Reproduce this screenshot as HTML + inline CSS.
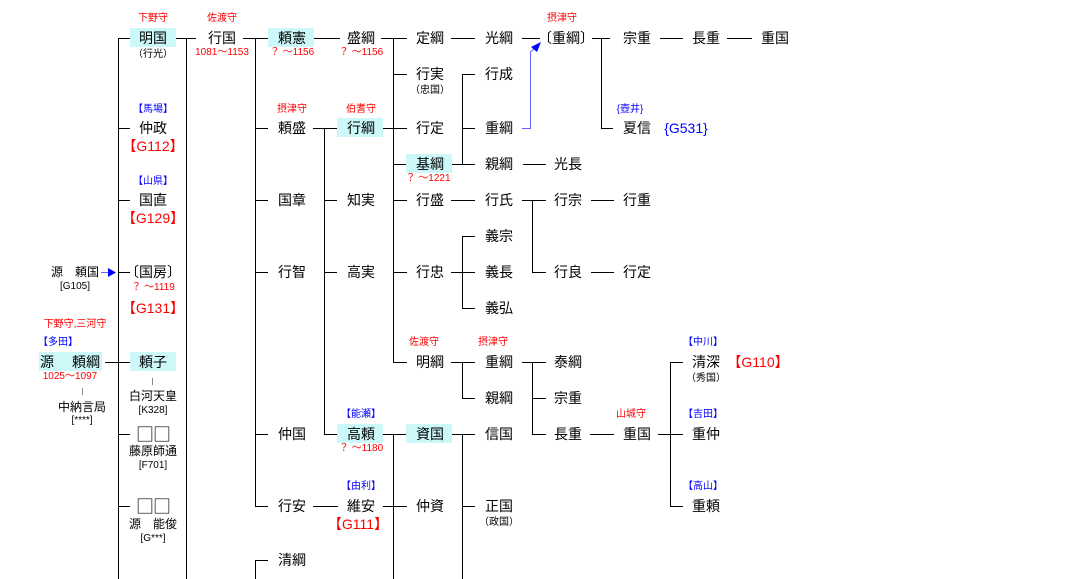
<!DOCTYPE html>
<html><head><meta charset="utf-8"><style>
body{margin:0;width:1066px;height:579px;background:#fff;position:relative;overflow:hidden;font-family:"Liberation Sans","Noto Sans CJK JP",sans-serif;}
.t{position:absolute;transform:translate(-50%,-50%);white-space:nowrap;font-size:14px;color:#000;line-height:1;}
.s{font-size:10px;}
.r{color:#f00;}
.b{color:#00f;}
.sq{font-family:"Noto Sans CJK JP",sans-serif;font-size:18px;letter-spacing:-1px;}
.box{position:absolute;background:#ccf8fa;}
.h{position:absolute;height:1px;background:#000;}
.v{position:absolute;width:1px;background:#000;}
</style></head><body>
<div class="box" style="left:130px;top:28px;width:46px;height:19px"></div>
<div class="box" style="left:268px;top:28px;width:46px;height:19px"></div>
<div class="box" style="left:337px;top:118px;width:46px;height:19px"></div>
<div class="box" style="left:406px;top:154px;width:46px;height:19px"></div>
<div class="box" style="left:406px;top:424px;width:46px;height:19px"></div>
<div class="box" style="left:337px;top:424px;width:46px;height:19px"></div>
<div class="box" style="left:130px;top:352px;width:46px;height:19px"></div>
<div class="box" style="left:39px;top:352px;width:63px;height:19px"></div>

<div class="v" style="left:118px;top:38px;height:541px"></div>
<div class="v" style="left:186px;top:38px;height:541px"></div>
<div class="v" style="left:255px;top:38px;height:468px"></div>
<div class="v" style="left:255px;top:560px;height:19px"></div>
<div class="v" style="left:324px;top:128px;height:306px"></div>
<div class="v" style="left:393px;top:38px;height:324px"></div>
<div class="v" style="left:393px;top:434px;height:145px"></div>
<div class="v" style="left:462px;top:74px;height:90px"></div>
<div class="v" style="left:462px;top:236px;height:72px"></div>
<div class="v" style="left:462px;top:362px;height:36px"></div>
<div class="v" style="left:462px;top:434px;height:145px"></div>
<div class="v" style="left:532px;top:200px;height:72px"></div>
<div class="v" style="left:532px;top:362px;height:72px"></div>
<div class="v" style="left:601px;top:38px;height:90px"></div>
<div class="v" style="left:670px;top:362px;height:144px"></div>

<div class="h" style="left:118px;top:38px;width:12px"></div>
<div class="h" style="left:176px;top:38px;width:20px"></div>
<div class="h" style="left:243px;top:38px;width:25px"></div>
<div class="h" style="left:314px;top:38px;width:26px"></div>
<div class="h" style="left:381px;top:38px;width:26px"></div>
<div class="h" style="left:451px;top:38px;width:24px"></div>
<div class="h" style="left:522px;top:38px;width:18px"></div>
<div class="h" style="left:592px;top:38px;width:18px"></div>
<div class="h" style="left:660px;top:38px;width:23px"></div>
<div class="h" style="left:727px;top:38px;width:25px"></div>
<div class="h" style="left:393px;top:74px;width:14px"></div>
<div class="h" style="left:462px;top:74px;width:13px"></div>
<div class="h" style="left:118px;top:128px;width:12px"></div>
<div class="h" style="left:255px;top:128px;width:13px"></div>
<div class="h" style="left:313px;top:128px;width:24px"></div>
<div class="h" style="left:383px;top:128px;width:24px"></div>
<div class="h" style="left:462px;top:128px;width:13px"></div>
<div class="h" style="left:601px;top:128px;width:12px"></div>
<div class="h" style="left:393px;top:164px;width:13px"></div>
<div class="h" style="left:452px;top:164px;width:23px"></div>
<div class="h" style="left:523px;top:164px;width:23px"></div>
<div class="h" style="left:118px;top:200px;width:12px"></div>
<div class="h" style="left:255px;top:200px;width:13px"></div>
<div class="h" style="left:324px;top:200px;width:13px"></div>
<div class="h" style="left:393px;top:200px;width:14px"></div>
<div class="h" style="left:451px;top:200px;width:24px"></div>
<div class="h" style="left:522px;top:200px;width:24px"></div>
<div class="h" style="left:591px;top:200px;width:23px"></div>
<div class="h" style="left:462px;top:236px;width:13px"></div>
<div class="h" style="left:118px;top:272px;width:12px"></div>
<div class="h" style="left:255px;top:272px;width:13px"></div>
<div class="h" style="left:324px;top:272px;width:13px"></div>
<div class="h" style="left:393px;top:272px;width:14px"></div>
<div class="h" style="left:451px;top:272px;width:24px"></div>
<div class="h" style="left:532px;top:272px;width:14px"></div>
<div class="h" style="left:591px;top:272px;width:23px"></div>
<div class="h" style="left:462px;top:308px;width:13px"></div>
<div class="h" style="left:105px;top:362px;width:25px"></div>
<div class="h" style="left:393px;top:362px;width:14px"></div>
<div class="h" style="left:451px;top:362px;width:24px"></div>
<div class="h" style="left:522px;top:362px;width:24px"></div>
<div class="h" style="left:670px;top:362px;width:13px"></div>
<div class="h" style="left:462px;top:398px;width:13px"></div>
<div class="h" style="left:532px;top:398px;width:14px"></div>
<div class="h" style="left:118px;top:434px;width:12px"></div>
<div class="h" style="left:255px;top:434px;width:13px"></div>
<div class="h" style="left:324px;top:434px;width:13px"></div>
<div class="h" style="left:383px;top:434px;width:23px"></div>
<div class="h" style="left:452px;top:434px;width:23px"></div>
<div class="h" style="left:532px;top:434px;width:14px"></div>
<div class="h" style="left:590px;top:434px;width:24px"></div>
<div class="h" style="left:658px;top:434px;width:25px"></div>
<div class="h" style="left:118px;top:506px;width:12px"></div>
<div class="h" style="left:255px;top:506px;width:13px"></div>
<div class="h" style="left:313px;top:506px;width:25px"></div>
<div class="h" style="left:383px;top:506px;width:24px"></div>
<div class="h" style="left:462px;top:506px;width:13px"></div>
<div class="h" style="left:670px;top:506px;width:13px"></div>
<div class="h" style="left:255px;top:560px;width:13px"></div>
<div class="h" style="left:82px;top:388px;width:1px;height:7px;background:#888"></div>
<div class="h" style="left:152px;top:378px;width:1px;height:7px;background:#888"></div>

<svg style="position:absolute;left:0;top:0" width="1066" height="579">
<polyline points="522,128.5 530.5,128.5 530.5,52 538,45" fill="none" stroke="#66f" stroke-width="1"/>
<polygon points="541,42 531,47 537,52" fill="#00f"/>
<line x1="101" y1="272.5" x2="110" y2="272.5" stroke="#66f"/>
<polygon points="116,272.5 108,268 108,277" fill="#00f"/>
</svg>

<div class="t s r" style="left:153px;top:19px">下野守</div>
<div class="t" style="left:153px;top:38px">明国</div>
<div class="t s" style="left:153px;top:55px">（行光）</div>
<div class="t s r" style="left:222px;top:19px">佐渡守</div>
<div class="t" style="left:222px;top:38px">行国</div>
<div class="t s r" style="left:222px;top:53px">1081～1153</div>
<div class="t" style="left:292px;top:38px">頼憲</div>
<div class="t s r" style="left:292px;top:53px">？ ～1156</div>
<div class="t" style="left:361px;top:38px">盛綱</div>
<div class="t s r" style="left:361px;top:53px">？ ～1156</div>
<div class="t" style="left:430px;top:38px">定綱</div>
<div class="t" style="left:499px;top:38px">光綱</div>
<div class="t s r" style="left:562px;top:19px">摂津守</div>
<div class="t" style="left:566px;top:38px">〔重綱〕</div>
<div class="t" style="left:637px;top:38px">宗重</div>
<div class="t" style="left:706px;top:38px">長重</div>
<div class="t" style="left:775px;top:38px">重国</div>
<div class="t" style="left:430px;top:74px">行実</div>
<div class="t s" style="left:430px;top:91px">（忠国）</div>
<div class="t" style="left:499px;top:74px">行成</div>
<div class="t s b" style="left:153px;top:110px">【馬場】</div>
<div class="t" style="left:153px;top:128px">仲政</div>
<div class="t r" style="left:153px;top:146px">【G112】</div>
<div class="t s r" style="left:292px;top:110px">摂津守</div>
<div class="t" style="left:292px;top:128px">頼盛</div>
<div class="t s r" style="left:361px;top:110px">伯耆守</div>
<div class="t" style="left:361px;top:128px">行綱</div>
<div class="t" style="left:430px;top:128px">行定</div>
<div class="t" style="left:499px;top:128px">重綱</div>
<div class="t s b" style="left:630px;top:110px">{壺井}</div>
<div class="t" style="left:637px;top:128px">夏信</div>
<div class="t b" style="left:686px;top:128px">{G531}</div>
<div class="t" style="left:430px;top:164px">基綱</div>
<div class="t s r" style="left:428px;top:179px">？ ～1221</div>
<div class="t" style="left:499px;top:164px">親綱</div>
<div class="t" style="left:568px;top:164px">光長</div>
<div class="t s b" style="left:153px;top:182px">【山県】</div>
<div class="t" style="left:153px;top:200px">国直</div>
<div class="t r" style="left:153px;top:218px">【G129】</div>
<div class="t" style="left:292px;top:200px">国章</div>
<div class="t" style="left:361px;top:200px">知実</div>
<div class="t" style="left:430px;top:200px">行盛</div>
<div class="t" style="left:499px;top:200px">行氏</div>
<div class="t" style="left:568px;top:200px">行宗</div>
<div class="t" style="left:637px;top:200px">行重</div>
<div class="t" style="left:499px;top:236px">義宗</div>
<div class="t" style="font-size:12px;left:75px;top:272px">源　頼国</div>
<div class="t s" style="left:75px;top:287px">[G105]</div>
<div class="t" style="left:153px;top:272px">〔国房〕</div>
<div class="t s r" style="left:153px;top:288px">？ ～1119</div>
<div class="t r" style="left:153px;top:308px">【G131】</div>
<div class="t" style="left:292px;top:272px">行智</div>
<div class="t" style="left:361px;top:272px">高実</div>
<div class="t" style="left:430px;top:272px">行忠</div>
<div class="t" style="left:499px;top:272px">義長</div>
<div class="t" style="left:568px;top:272px">行良</div>
<div class="t" style="left:637px;top:272px">行定</div>
<div class="t" style="left:499px;top:308px">義弘</div>
<div class="t s r" style="left:75px;top:325px">下野守,三河守</div>
<div class="t s b" style="left:58px;top:343px">【多田】</div>
<div class="t" style="left:70px;top:362px">源　 頼綱</div>
<div class="t s r" style="left:70px;top:377px">1025～1097</div>
<div class="t" style="font-size:12px;left:82px;top:407px">中納言局</div>
<div class="t s" style="left:82px;top:421px">[****]</div>
<div class="t" style="left:153px;top:362px">頼子</div>
<div class="t" style="font-size:12px;left:153px;top:396px">白河天皇</div>
<div class="t s" style="left:153px;top:411px">[K328]</div>
<div class="t s r" style="left:424px;top:343px">佐渡守</div>
<div class="t" style="left:430px;top:362px">明綱</div>
<div class="t s r" style="left:493px;top:343px">摂津守</div>
<div class="t" style="left:499px;top:362px">重綱</div>
<div class="t" style="left:568px;top:362px">泰綱</div>
<div class="t s b" style="left:703px;top:343px">【中川】</div>
<div class="t" style="left:706px;top:362px">清深</div>
<div class="t s" style="left:706px;top:379px">（秀国）</div>
<div class="t r" style="left:758px;top:362px">【G110】</div>
<div class="t" style="left:499px;top:398px">親綱</div>
<div class="t" style="left:568px;top:398px">宗重</div>
<div class="t sq" style="left:153px;top:434px">□□</div>
<div class="t" style="font-size:12px;left:153px;top:451px">藤原師通</div>
<div class="t s" style="left:153px;top:466px">[F701]</div>
<div class="t" style="left:292px;top:434px">仲国</div>
<div class="t s b" style="left:361px;top:415px">【能瀬】</div>
<div class="t" style="left:361px;top:434px">高頼</div>
<div class="t s r" style="left:361px;top:449px">？ ～1180</div>
<div class="t" style="left:430px;top:434px">資国</div>
<div class="t" style="left:499px;top:434px">信国</div>
<div class="t" style="left:568px;top:434px">長重</div>
<div class="t s r" style="left:631px;top:415px">山城守</div>
<div class="t" style="left:637px;top:434px">重国</div>
<div class="t s b" style="left:703px;top:415px">【吉田】</div>
<div class="t" style="left:706px;top:434px">重仲</div>
<div class="t sq" style="left:153px;top:506px">□□</div>
<div class="t" style="font-size:12px;left:153px;top:524px">源　能俊</div>
<div class="t s" style="left:153px;top:539px">[G***]</div>
<div class="t" style="left:292px;top:506px">行安</div>
<div class="t s b" style="left:361px;top:487px">【由利】</div>
<div class="t" style="left:361px;top:506px">維安</div>
<div class="t r" style="left:358px;top:524px">【G111】</div>
<div class="t" style="left:430px;top:506px">仲資</div>
<div class="t" style="left:499px;top:506px">正国</div>
<div class="t s" style="left:499px;top:523px">（政国）</div>
<div class="t s b" style="left:703px;top:487px">【高山】</div>
<div class="t" style="left:706px;top:506px">重頼</div>
<div class="t" style="left:292px;top:560px">清綱</div>
</body></html>
